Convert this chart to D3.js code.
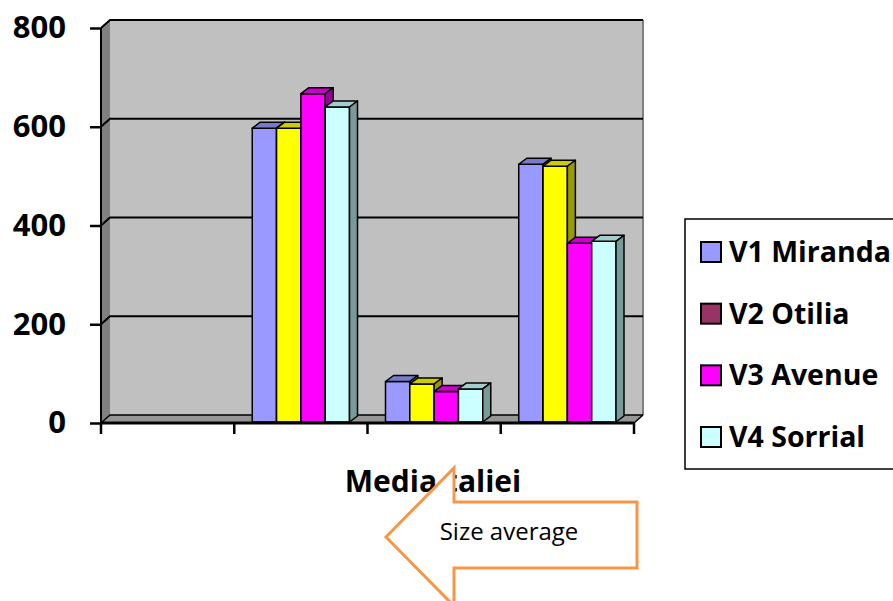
<!DOCTYPE html>
<html>
<head>
<meta charset="utf-8">
<script src="https://cdn.jsdelivr.net/npm/d3@7"></script>
<style>
  html, body { margin: 0; padding: 0; background: #fff; }
  svg { display: block; }
</style>
</head>
<body>
<svg id="chart" width="893" height="601"></svg>
<script>
// Chart data
const categories = ["g1", "g2", "g3", "g4"];
const seriesNames = ["V1 Miranda", "V2 Otilia", "V3 Avenue", "V4 Sorrial"];
const v1Miranda = [0, 595, 82, 522];
const v2Otilia  = [0, 595, 77, 518];
const v3Avenue  = [0, 665, 62, 362];
const v4Sorrial = [0, 638, 67, 366];
const seriesValues = [v1Miranda, v2Otilia, v3Avenue, v4Sorrial];
const barColors = ["#9999FF", "#FFFF00", "#FF00FF", "#CCFFFF"];
const legendColors = ["#9999FF", "#993366", "#FF00FF", "#CCFFFF"];
const yTicks = [0, 200, 400, 600, 800];
const axisTitle = "Media taliei";
const calloutText = "Size average";

const svg = d3.select("#chart");
const FONT = "'Open Sans', Lato, sans-serif";

// Plot frame (front plane) and 3D depth offsets
const plotLeft = 101, plotRight = 634, plotTop = 28, plotBottom = 423;
const wallDx = 9, wallDy = -8;
const barDx = 8, barDy = -6;

const y = d3.scaleLinear().domain([0, 800]).range([plotBottom, plotTop]);
const x = d3.scaleBand().domain(categories).range([plotLeft, plotRight]).paddingInner(0).paddingOuter(0);
const xs = d3.scaleBand().domain(d3.range(seriesNames.length))
  .range([0, x.bandwidth()]).paddingOuter(0.74).paddingInner(0);

const shade = (c, k) => { const r = d3.rgb(c); return d3.rgb(r.r * k, r.g * k, r.b * k).toString(); };
const poly = pts => pts.map(p => p.join(",")).join(" ");

// Back wall
svg.append("rect")
  .attr("x", plotLeft + wallDx).attr("y", plotTop + wallDy)
  .attr("width", plotRight - plotLeft).attr("height", plotBottom - plotTop)
  .attr("fill", "#C0C0C0");
// Side wall
svg.append("polygon")
  .attr("points", poly([[plotLeft, plotTop], [plotLeft + wallDx, plotTop + wallDy], [plotLeft + wallDx, plotBottom + wallDy], [plotLeft, plotBottom]]))
  .attr("fill", "#808080");
// Floor
svg.append("polygon")
  .attr("points", poly([[plotLeft, plotBottom], [plotLeft + wallDx, plotBottom + wallDy], [plotRight + wallDx, plotBottom + wallDy], [plotRight, plotBottom]]))
  .attr("fill", "#969696");

// Wall edges
svg.append("line").attr("x1", plotLeft + wallDx).attr("x2", plotRight + wallDx)
  .attr("y1", plotTop + wallDy).attr("y2", plotTop + wallDy)
  .attr("stroke", "#404040").attr("stroke-width", 1.5);
svg.append("line").attr("x1", plotRight + wallDx).attr("x2", plotRight + wallDx)
  .attr("y1", plotTop + wallDy).attr("y2", plotBottom + wallDy)
  .attr("stroke", "#808080").attr("stroke-width", 2);
svg.append("line").attr("x1", plotRight).attr("x2", plotRight + wallDx)
  .attr("y1", plotBottom).attr("y2", plotBottom + wallDy)
  .attr("stroke", "#000").attr("stroke-width", 1.5);

// Gridlines on back and side walls
const grid = svg.append("g");
yTicks.filter(t => t > 0).forEach(t => {
  grid.append("polyline")
    .attr("points", poly([[plotLeft, y(t)], [plotLeft + wallDx, y(t) + wallDy], [plotRight + wallDx, y(t) + wallDy]]))
    .attr("fill", "none").attr("stroke", "#000").attr("stroke-width", 2);
});
grid.append("polyline")
  .attr("points", poly([[plotLeft, plotBottom], [plotLeft + wallDx, plotBottom + wallDy], [plotRight + wallDx, plotBottom + wallDy]]))
  .attr("fill", "none").attr("stroke", "#000").attr("stroke-width", 1.5);

// Bars: front face, top face, right side face
const bars = svg.append("g");
const base = y(0) - 1;
categories.forEach((c, ci) => {
  seriesValues.forEach((vals, si) => {
    const v = vals[ci];
    if (!v) return;
    const x0 = x(c) + xs(si), x1 = x0 + xs.bandwidth();
    const yt = y(v) - 1;
    const g = bars.append("g").attr("stroke", "#000").attr("stroke-width", 1.5).attr("stroke-linejoin", "round");
    g.append("polygon").attr("points", poly([[x0, base], [x0, yt], [x1, yt], [x1, base]]))
      .attr("fill", barColors[si]);
    g.append("polygon").attr("points", poly([[x0, yt], [x0 + barDx, yt + barDy], [x1 + barDx, yt + barDy], [x1, yt]]))
      .attr("fill", shade(barColors[si], 0.8));
    g.append("polygon").attr("points", poly([[x1, yt], [x1 + barDx, yt + barDy], [x1 + barDx, base + barDy], [x1, base]]))
      .attr("fill", shade(barColors[si], 0.6));
  });
});

// Front axes
const axisG = svg.append("g");
axisG.append("line").attr("x1", plotLeft).attr("x2", plotLeft).attr("y1", plotTop).attr("y2", plotBottom)
  .attr("stroke", "#000").attr("stroke-width", 2);
axisG.append("line").attr("x1", plotLeft).attr("x2", plotRight).attr("y1", plotBottom).attr("y2", plotBottom)
  .attr("stroke", "#000").attr("stroke-width", 3);

const yAxis = d3.axisLeft(y).tickValues(yTicks).tickSize(11).tickPadding(24).tickFormat(d3.format("d"));
const yg = svg.append("g").attr("transform", `translate(${plotLeft},0)`).call(yAxis);
yg.select(".domain").remove();
yg.selectAll(".tick line").attr("stroke", "#000").attr("stroke-width", 2.5);
yg.selectAll(".tick text")
  .attr("font-family", FONT).attr("font-weight", "bold").attr("font-size", 31).attr("fill", "#000");

const xTickPos = categories.map(c => x(c)).concat([plotRight]);
svg.append("g").selectAll("line").data(xTickPos).join("line")
  .attr("x1", d => d).attr("x2", d => d).attr("y1", plotBottom).attr("y2", plotBottom + 11)
  .attr("stroke", "#000").attr("stroke-width", 2.5);

// Axis title
svg.append("text").attr("x", 433).attr("y", 492).attr("text-anchor", "middle")
  .attr("font-family", FONT).attr("font-weight", "bold").attr("font-size", 30)
  .attr("fill", "#000").text(axisTitle);

// Legend
const lg = svg.append("g");
lg.append("rect").attr("x", 685).attr("y", 219).attr("width", 230).attr("height", 250)
  .attr("fill", "#fff").attr("stroke", "#000").attr("stroke-width", 1.5);
const legendY = d3.scalePoint().domain(seriesNames).range([252, 437]);
seriesNames.forEach((n, i) => {
  lg.append("rect").attr("x", 701).attr("y", legendY(n) - 10).attr("width", 20).attr("height", 20)
    .attr("fill", legendColors[i]).attr("stroke", "#000").attr("stroke-width", 2);
  lg.append("text").attr("x", 729).attr("y", legendY(n) + 10)
    .attr("font-family", FONT).attr("font-weight", "bold").attr("font-size", 28.5)
    .attr("fill", "#000").text(n);
});

// Callout arrow pointing left
const tipX = 386, tipY = 537, headX = 454, headHalf = 69, shaftTop = 502, shaftBottom = 568, tailX = 637;
svg.append("polygon")
  .attr("points", poly([[tipX, tipY], [headX, tipY - headHalf], [headX, shaftTop], [tailX, shaftTop],
                        [tailX, shaftBottom], [headX, shaftBottom], [headX, tipY + headHalf]]))
  .attr("fill", "#fff").attr("stroke", "#F79646").attr("stroke-width", 3).attr("stroke-linejoin", "miter");
svg.append("text").attr("x", 509).attr("y", 540).attr("text-anchor", "middle")
  .attr("font-family", FONT).attr("font-size", 24).attr("fill", "#000").text(calloutText);
</script>
</body>
</html>
